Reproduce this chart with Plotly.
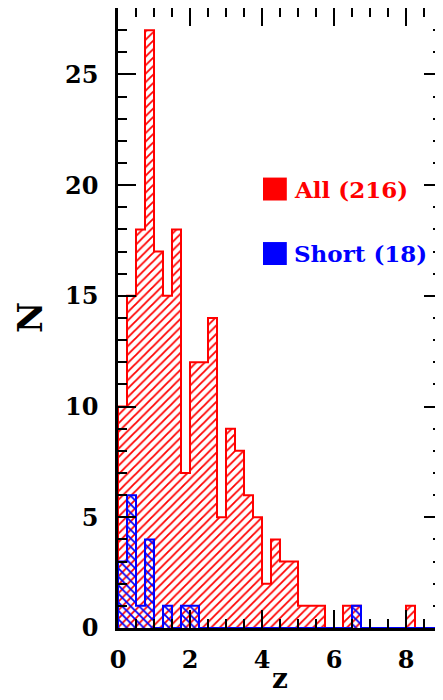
import plotly.graph_objects as go

# Bin left edges in z (bin width 0.25)
z_bins = [0.0, 0.25, 0.5, 0.75, 1.0, 1.25, 1.5, 1.75, 2.0, 2.25, 2.5, 2.75,
          3.0, 3.25, 3.5, 3.75, 4.0, 4.25, 4.5, 4.75, 5.0, 5.25, 5.5, 5.75,
          6.0, 6.25, 6.5, 6.75, 7.0, 7.25, 7.5, 7.75, 8.0, 8.25, 8.5, 8.75]
bin_width = 0.25

# Counts: all GRBs (216)
all_counts = [10, 15, 18, 27, 17, 15, 18, 7, 12, 12, 14, 5,
              9, 8, 6, 5, 2, 4, 3, 3, 1, 1, 1, 0,
              0, 1, 1, 0, 0, 0, 0, 0, 1, 0, 0, 0]
# Counts: short GRBs (18)
short_counts = [3, 6, 1, 4, 0, 1, 0, 1, 1, 0, 0, 0,
                0, 0, 0, 0, 0, 0, 0, 0, 0, 0, 0, 0,
                0, 0, 1, 0, 0, 0, 0, 0, 0, 0, 0, 0]

legend_labels = ["All (216)", "Short (18)"]
x_ticks = [0, 2, 4, 6, 8]
y_ticks = [0, 5, 10, 15, 20, 25]

RED = "#ff0000"
BLUE = "#0000ff"
FONT = "DejaVu Serif"

centers = [b + bin_width / 2 for b in z_bins]


def step_xy(counts):
    xs = [z_bins[0]] + list(z_bins) + [z_bins[-1] + bin_width]
    ys = [0] + list(counts) + [0]
    return xs, ys


fig = go.Figure()

fig.add_trace(go.Bar(
    x=centers, y=all_counts, width=bin_width,
    marker=dict(color=RED, line=dict(width=0),
                pattern=dict(shape="/", size=6, solidity=0.3, fillmode="replace")),
    showlegend=False, hoverinfo="skip"))
xs, ys = step_xy(all_counts)
fig.add_trace(go.Scatter(x=xs, y=ys, mode="lines", line=dict(color=RED, width=2, shape="hv"),
                         showlegend=False, hoverinfo="skip"))

fig.add_trace(go.Bar(
    x=centers, y=short_counts, width=bin_width,
    marker=dict(color=BLUE, line=dict(width=0),
                pattern=dict(shape="\\", size=6, solidity=0.3, fillmode="replace")),
    showlegend=False, hoverinfo="skip"))
xs, ys = step_xy(short_counts)
fig.add_trace(go.Scatter(x=xs, y=ys, mode="lines", line=dict(color=BLUE, width=2, shape="hv"),
                         showlegend=False, hoverinfo="skip"))

# Legend (squares + text)
for i, (lab, col) in enumerate(zip(legend_labels, [RED, BLUE])):
    yc = 0.708 - i * 0.104
    fig.add_shape(type="rect", xref="paper", yref="paper",
                  x0=0.4475, x1=0.521, y0=yc - 0.0185, y1=yc + 0.0185,
                  fillcolor=col, line=dict(width=0))
    fig.add_annotation(x=0.537, y=yc, xref="paper", yref="paper", text=lab,
                       showarrow=False, xanchor="left", yanchor="middle",
                       font=dict(family=FONT, size=23, color=col, weight="bold"))

axis_common = dict(showline=True, linecolor="black", linewidth=2.5, mirror="allticks",
                   ticks="inside", tickcolor="black", tickwidth=2, ticklen=18,
                   showgrid=False, zeroline=False, automargin=False,
                   tickfont=dict(family=FONT, size=24, color="black", weight="bold"))

fig.update_xaxes(range=[0, 9], tickvals=x_ticks, ticktext=[str(v) for v in x_ticks],
                 minor=dict(ticks="inside", dtick=0.5, ticklen=9, tickwidth=2,
                            tickcolor="black", showgrid=False),
                 ticklabelstandoff=8,
                 **axis_common)
fig.update_yaxes(range=[0, 28], tickvals=y_ticks, ticktext=[str(v) for v in y_ticks],
                 minor=dict(ticks="inside", dtick=1, ticklen=9, tickwidth=2,
                            tickcolor="black", showgrid=False),
                 ticklabelstandoff=12,
                 **axis_common)

# Axis titles
fig.add_annotation(x=0.5, y=0, xref="paper", yref="paper", yshift=-50, text="z",
                   showarrow=False, xanchor="center", yanchor="middle",
                   font=dict(family=FONT, size=28, color="black", weight="bold"))
fig.add_annotation(x=0, y=0.5, xref="paper", yref="paper", xshift=-88, text="N",
                   showarrow=False, xanchor="center", yanchor="middle", textangle=-90,
                   font=dict(family=FONT, size=34, color="black", weight="bold"))

# The page adds an 8px body margin, so the figure is sized/offset to compensate
fig.update_layout(width=435, height=692, barmode="overlay", bargap=0,
                  margin=dict(l=110, r=1, t=0, b=72),
                  plot_bgcolor="white", paper_bgcolor="white")

fig.write_html("out.html")
